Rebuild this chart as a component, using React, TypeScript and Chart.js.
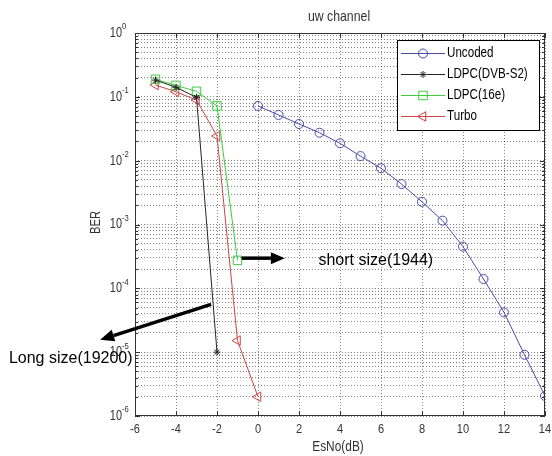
import React, { useEffect, useRef } from 'react';
import { Chart, registerables } from 'chart.js';
Chart.register(...registerables);

// ---------- data ----------
const seriesNames = ['Uncoded', 'LDPC(DVB-S2)', 'LDPC(16e)', 'Turbo'];
const uncodedX = [0, 1, 2, 3, 4, 5, 6, 7, 8, 9, 10, 11, 12, 13, 14];
const uncodedBER = [0.072, 0.052, 0.0375, 0.0274, 0.0187, 0.0118, 0.0076, 0.0043, 0.00227, 0.00115, 4.5e-4, 1.4e-4, 4.2e-5, 9.1e-6, 2.06e-6];
const dvbX = [-5, -4, -3, -2];
const dvbBER = [0.183, 0.141, 0.098, 1.0e-5];
const ldpc16eX = [-5, -4, -3, -2, -1];
const ldpc16eBER = [0.188, 0.151, 0.122, 0.072, 2.74e-4];
const turboX = [-5, -4, -3, -2, -1, 0];
const turboBER = [0.153, 0.12, 0.089, 0.0243, 1.52e-5, 2.0e-6];

const xMin = -6;
const xMax = 14;
const xStep = 2;
const decadeExps = [-6, -5, -4, -3, -2, -1, 0];
const minorMultipliers = [1, 2, 3, 4, 5, 6, 7, 8, 9];

const titleText = 'uw channel';
const xTitle = 'EsNo(dB)';
const yTitle = 'BER';

const noteTexts = ['short size(1944)', 'Long size(19200)'];
const noteX = [2.95, -12.15];
const noteY = [2.69e-4, 8.05e-6];
const arrowFromX = [-0.8, -2.29];
const arrowFromY = [2.97e-4, 5.62e-5];
const arrowToX = [1.31, -7.7];
const arrowToY = [2.97e-4, 1.56e-5];

// ---------- style ----------
const FONT = '"Liberation Sans", Arial, sans-serif';
const colors = ['#4b4ba8', '#262626', '#3ccc3c', '#cc4444'];
const pointStyles = ['circle', 'star', 'rect', 'triangle'];
const pointRadii = [4.5, 3.5, 6, 5.5];
const pointRotations = [0, 0, 0, -90];

const isDecade = (v: number) => Math.abs(Math.log10(v) - Math.round(Math.log10(v))) < 1e-9;

function text(
  ctx: CanvasRenderingContext2D,
  str: string,
  x: number,
  y: number,
  size: number,
  align: CanvasTextAlign,
  sx: number,
  color: string,
  rot = 0
) {
  ctx.save();
  ctx.font = size + 'px ' + FONT;
  ctx.fillStyle = color;
  ctx.textAlign = align;
  ctx.textBaseline = 'middle';
  ctx.translate(x, y);
  if (rot) ctx.rotate(rot);
  ctx.scale(sx, 1);
  ctx.fillText(str, 0, 0);
  ctx.restore();
}

function drawMarker(ctx: CanvasRenderingContext2D, style: string, x: number, y: number, r: number, rot: number) {
  ctx.beginPath();
  if (style === 'circle') {
    ctx.arc(x, y, r, 0, Math.PI * 2);
  } else if (style === 'rect') {
    const s = Math.SQRT1_2 * r;
    ctx.rect(x - s, y - s, 2 * s, 2 * s);
  } else if (style === 'triangle') {
    let rad = (rot * Math.PI) / 180;
    ctx.moveTo(x + Math.sin(rad) * r, y - Math.cos(rad) * r);
    rad += (2 * Math.PI) / 3;
    ctx.lineTo(x + Math.sin(rad) * r, y - Math.cos(rad) * r);
    rad += (2 * Math.PI) / 3;
    ctx.lineTo(x + Math.sin(rad) * r, y - Math.cos(rad) * r);
    ctx.closePath();
  } else if (style === 'star') {
    for (let i = 0; i < 4; i++) {
      const a = (i * Math.PI) / 4;
      ctx.moveTo(x + Math.cos(a) * r, y + Math.sin(a) * r);
      ctx.lineTo(x - Math.cos(a) * r, y - Math.sin(a) * r);
    }
  }
  ctx.stroke();
}

function drawArrow(ctx: CanvasRenderingContext2D, x1: number, y1: number, x2: number, y2: number) {
  const ang = Math.atan2(y2 - y1, x2 - x1);
  const headLen = 14;
  const headHalf = 6;
  const bx = x2 - Math.cos(ang) * headLen;
  const by = y2 - Math.sin(ang) * headLen;
  ctx.strokeStyle = '#000';
  ctx.fillStyle = '#000';
  ctx.lineWidth = 3.5;
  ctx.beginPath();
  ctx.moveTo(x1, y1);
  ctx.lineTo(bx, by);
  ctx.stroke();
  ctx.beginPath();
  ctx.moveTo(x2, y2);
  ctx.lineTo(bx + Math.sin(ang) * headHalf, by - Math.cos(ang) * headHalf);
  ctx.lineTo(bx - Math.sin(ang) * headHalf, by + Math.cos(ang) * headHalf);
  ctx.closePath();
  ctx.fill();
}

const decorPlugin = {
  id: 'decor',
  afterDatasetsDraw(chart: any) {
    const { ctx, chartArea: a, scales } = chart;
    const xs = scales.x;
    const ys = scales.y;
    ctx.save();

    // inner tick marks
    ctx.strokeStyle = '#333';
    ctx.lineWidth = 1;
    ctx.beginPath();
    xs.ticks.forEach((t: any) => {
      const px = Math.round(xs.getPixelForValue(t.value)) + 0.5;
      ctx.moveTo(px, a.bottom);
      ctx.lineTo(px, a.bottom - 5);
      ctx.moveTo(px, a.top);
      ctx.lineTo(px, a.top + 5);
    });
    ys.ticks.forEach((t: any) => {
      const py = Math.round(ys.getPixelForValue(t.value)) + 0.5;
      const len = isDecade(t.value) ? 5 : 3;
      ctx.moveTo(a.left, py);
      ctx.lineTo(a.left + len, py);
      ctx.moveTo(a.right, py);
      ctx.lineTo(a.right - len, py);
    });
    ctx.stroke();

    // frame
    ctx.strokeStyle = '#333';
    ctx.strokeRect(a.left + 0.5, a.top + 0.5, a.right - a.left - 1, a.bottom - a.top - 1);

    // y tick labels with superscripts
    decadeExps.forEach((e) => {
      const py = ys.getPixelForValue(Math.pow(10, e));
      const expLeft = a.left - 13;
      text(ctx, '10', expLeft, py, 14, 'right', 0.78, '#333');
      text(ctx, e === 0 ? '0' : '-' + Math.abs(e), expLeft, py - 6, 9, 'left', 0.85, '#333');
    });

    // x tick labels
    xs.ticks.forEach((t: any) => {
      text(ctx, String(t.value), xs.getPixelForValue(t.value), a.bottom + 13, 13, 'center', 0.85, '#333');
    });

    // axis titles
    text(ctx, xTitle, (a.left + a.right) / 2 - 2, a.bottom + 31, 14, 'center', 0.85, '#333');
    text(ctx, yTitle, a.left - 39, (a.top + a.bottom) / 2 - 2, 14, 'center', 0.8, '#333', -Math.PI / 2);

    // title
    text(ctx, titleText, (a.left + a.right) / 2 - 1, a.top - 16, 15, 'center', 0.82, '#333');

    // legend
    const lw = 142;
    const lh = 90;
    const lx = a.right - 6 - lw;
    const ly = a.top + 7;
    ctx.fillStyle = '#fff';
    ctx.fillRect(lx, ly, lw, lh);
    ctx.strokeStyle = '#000';
    ctx.lineWidth = 1;
    ctx.strokeRect(lx + 0.5, ly + 0.5, lw, lh);
    chart.data.datasets.forEach((ds: any, i: number) => {
      const cy = ly + 13.5 + i * 21;
      ctx.strokeStyle = colors[i];
      ctx.lineWidth = 1;
      ctx.beginPath();
      ctx.moveTo(lx + 4, cy);
      ctx.lineTo(lx + 48, cy);
      ctx.stroke();
      drawMarker(ctx, pointStyles[i], lx + 26, cy, pointRadii[i], pointRotations[i]);
      text(ctx, ds.label, lx + 50, cy, 14, 'left', 0.83, '#000');
    });

    // arrows
    for (let i = 0; i < arrowFromX.length; i++) {
      drawArrow(
        ctx,
        xs.getPixelForValue(arrowFromX[i]),
        ys.getPixelForValue(arrowFromY[i]),
        xs.getPixelForValue(arrowToX[i]),
        ys.getPixelForValue(arrowToY[i])
      );
    }

    // notes
    for (let i = 0; i < noteTexts.length; i++) {
      text(ctx, noteTexts[i], xs.getPixelForValue(noteX[i]), ys.getPixelForValue(noteY[i]), 16, 'left', 1, '#000');
    }

    ctx.restore();
  },
};

const zipXY = (xs: number[], ys: number[]) => xs.map((x, i) => ({ x, y: ys[i] }));

export default function App() {
  const ref = useRef<HTMLCanvasElement | null>(null);
  useEffect(() => {
    if (!ref.current) return;
    const allX = [uncodedX, dvbX, ldpc16eX, turboX];
    const allY = [uncodedBER, dvbBER, ldpc16eBER, turboBER];
    const chart = new Chart(ref.current, {
      type: 'line',
      data: {
        datasets: seriesNames.map((name, i) => ({
          label: name,
          data: zipXY(allX[i], allY[i]),
          borderColor: colors[i],
          borderWidth: 1,
          backgroundColor: 'rgba(0,0,0,0)',
          pointStyle: pointStyles[i] as any,
          pointRadius: pointRadii[i],
          pointRotation: pointRotations[i],
          pointBorderColor: colors[i],
          pointBorderWidth: 1,
          pointBackgroundColor: 'rgba(0,0,0,0)',
          tension: 0,
          fill: false,
        })),
      },
      options: {
        animation: false,
        responsive: false,
        maintainAspectRatio: false,
        devicePixelRatio: 1,
        layout: { padding: { left: 85, top: 33, right: 3, bottom: 0 } },
        plugins: { legend: { display: false }, title: { display: false }, tooltip: { enabled: false } },
        scales: {
          x: {
            type: 'linear',
            min: xMin,
            max: xMax,
            ticks: { stepSize: xStep, display: false },
            grid: { color: 'rgba(50,50,50,0.6)', lineWidth: 1, drawTicks: false },
            border: { display: false, dash: [1, 2] },
            afterFit: (s: any) => { s.height = 40; },
          },
          y: {
            type: 'logarithmic',
            min: 1e-6,
            max: 1,
            ticks: { display: false, autoSkip: false },
            grid: { color: 'rgba(50,50,50,0.6)', lineWidth: 1, drawTicks: false },
            border: { display: false, dash: [1, 2] },
            afterBuildTicks: (s: any) => {
              const t: any[] = [];
              decadeExps.forEach((e) => {
                minorMultipliers.forEach((m) => {
                  const v = m * Math.pow(10, e);
                  if (v <= 1 + 1e-12) t.push({ value: v });
                });
              });
              s.ticks = t;
            },
            afterFit: (s: any) => { s.width = 50; },
          },
        },
      },
      plugins: [decorPlugin],
    });
    return () => chart.destroy();
  }, []);
  return (
    <div style={{ position: 'absolute', left: 0, top: 0, width: 552, height: 456, background: '#fff' }}>
      <canvas ref={ref} width={552} height={456} style={{ width: 552, height: 456, display: 'block' }} />
    </div>
  );
}
